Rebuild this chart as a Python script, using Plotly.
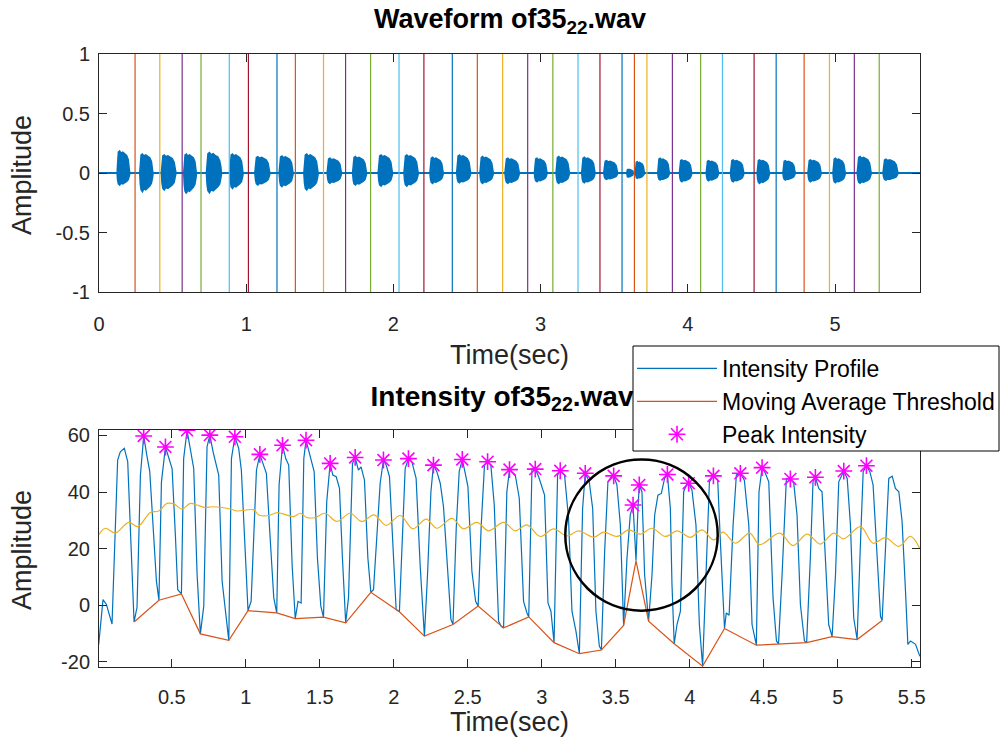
import plotly.graph_objects as go

# ---------------- DATA ----------------
# Segment boundaries (intensity valleys) in seconds and their intensity (dB)
valley_t = [0.245, 0.413, 0.565, 0.693, 0.885, 1.015, 1.209, 1.334, 1.525, 1.675, 1.845,
            2.038, 2.207, 2.400, 2.570, 2.742, 2.912, 3.083, 3.254, 3.403, 3.553, 3.637,
            3.722, 3.895, 4.087, 4.235, 4.450, 4.600, 4.790, 4.962, 5.131, 5.300]
valley_db = [-5.9, 1.8, 4.0, -10.1, -12.4, -1.9, -2.7, -4.7, -4.2, -6.2, 4.6,
             -2.3, -10.9, -6.8, -0.3, -8.0, -4.1, -13.2, -17.1, -15.8, -7.1, 15.7,
             -5.6, -13.6, -21.5, -8.2, -14.1, -13.6, -13.2, -11.1, -12.1, -5.4]

# Peak intensities
peak_t = [0.310, 0.457, 0.603, 0.757, 0.926, 1.095, 1.248, 1.407, 1.570, 1.739, 1.930,
          2.099, 2.268, 2.463, 2.634, 2.782, 2.956, 3.125, 3.294, 3.486, 3.617, 3.659,
          3.849, 3.993, 4.160, 4.342, 4.489, 4.680, 4.849, 5.041, 5.194]
peak_db = [59.8, 55.9, 61.8, 60.1, 59.5, 53.3, 56.5, 58.3, 50.1, 52.2, 51.3,
           51.8, 49.5, 51.5, 50.7, 47.9, 48.1, 47.5, 46.6, 45.7, 35.4, 42.5,
           46.2, 43.1, 45.7, 46.6, 48.6, 44.6, 45.2, 47.4, 49.3]

# Intensity profile (time, dB)
intensity_t = [
    0.006, 0.035, 0.058, 0.096, 0.134, 0.152, 0.179, 0.202, 0.245,
    0.265, 0.288, 0.310, 0.333, 0.351, 0.373, 0.396, 0.413,
    0.430, 0.457, 0.479, 0.502, 0.524, 0.540, 0.565,
    0.580, 0.603, 0.626, 0.648, 0.671, 0.693,
    0.716, 0.738, 0.757, 0.779, 0.817, 0.840, 0.885,
    0.903, 0.926, 0.952, 0.970, 0.997, 1.015,
    1.036, 1.072, 1.095, 1.117, 1.139, 1.166, 1.189, 1.209,
    1.225, 1.248, 1.270, 1.290, 1.313, 1.334,
    1.353, 1.374, 1.392, 1.407, 1.446, 1.462, 1.484, 1.507, 1.525,
    1.547, 1.570, 1.588, 1.611, 1.633, 1.653, 1.675,
    1.694, 1.721, 1.739, 1.761, 1.779, 1.802, 1.825, 1.845,
    1.863, 1.890, 1.908, 1.930, 1.949, 1.971, 1.994, 2.016, 2.038,
    2.054, 2.077, 2.099, 2.122, 2.151, 2.178, 2.207,
    2.228, 2.251, 2.268, 2.291, 2.314, 2.336, 2.363, 2.386, 2.400,
    2.422, 2.442, 2.463, 2.483, 2.501, 2.528, 2.553, 2.570,
    2.591, 2.613, 2.634, 2.656, 2.679, 2.708, 2.726, 2.742,
    2.764, 2.782, 2.821, 2.848, 2.877, 2.900, 2.912,
    2.934, 2.956, 2.979, 3.019, 3.042, 3.062, 3.083,
    3.107, 3.125, 3.154, 3.181, 3.204, 3.231, 3.254,
    3.276, 3.294, 3.321, 3.344, 3.366, 3.389, 3.403,
    3.425, 3.447, 3.470, 3.486, 3.508, 3.531, 3.553,
    3.576, 3.598, 3.617, 3.637,
    3.650, 3.659, 3.677, 3.695, 3.722,
    3.745, 3.763, 3.785, 3.808, 3.830, 3.849, 3.869, 3.880, 3.895,
    3.914, 3.937, 3.959, 3.982, 3.993, 4.015, 4.042, 4.065, 4.087,
    4.110, 4.133, 4.160, 4.189, 4.207, 4.235,
    4.247, 4.266, 4.293, 4.315, 4.342, 4.369, 4.399, 4.421, 4.450,
    4.468, 4.489, 4.511, 4.534, 4.563, 4.586, 4.600,
    4.624, 4.653, 4.680, 4.703, 4.725, 4.748, 4.775, 4.790,
    4.815, 4.833, 4.849, 4.872, 4.894, 4.917, 4.939, 4.962,
    4.985, 5.007, 5.041, 5.064, 5.086, 5.108, 5.131,
    5.154, 5.172, 5.194, 5.217, 5.239, 5.266, 5.289, 5.300,
    5.323, 5.345, 5.368, 5.390, 5.413, 5.435, 5.458, 5.474, 5.492, 5.526, 5.555]
intensity_db = [
    -13.8, 2.0, 0.3, -6.6, 51.3, 54.2, 55.4, 50.7, -5.9,
    -0.7, 46.0, 59.8, 52.4, 47.2, 28.4, 8.5, 1.8,
    43.6, 55.9, 52.4, 48.3, 24.9, 5.5, 4.0,
    51.8, 61.8, 54.8, 48.3, 10.8, -10.1,
    -0.3, 56.0, 60.1, 54.2, 46.0, 8.5, -12.4,
    51.8, 59.5, 55.4, 47.7, 16.7, -1.9,
    1.4, 47.7, 53.3, 49.5, 46.6, 22.5, 2.6, -2.7,
    42.5, 56.5, 51.8, 49.5, 14.3, -4.7,
    1.4, 0.8, 51.8, 58.3, 50.7, 47.2, 16.7, -0.3, -4.2,
    36.6, 50.1, 46.0, 45.4, 41.3, 16.7, -6.2,
    2.6, 50.1, 52.2, 47.7, 48.9, 44.2, 16.7, 4.6,
    5.5, 27.2, 43.1, 51.3, 49.5, 45.4, 21.4, -1.5, -2.3,
    19.0, 48.3, 51.8, 50.7, 44.8, 14.3, -10.9,
    10.8, 40.1, 49.5, 47.2, 43.1, 34.8, 13.1, -5.0, -6.8,
    27.2, 47.2, 51.5, 46.6, 41.9, 12.0, 1.4, -0.3,
    28.4, 49.5, 50.7, 49.5, 35.4, -5.6, -7.4, -8.0,
    40.0, 47.9, 46.0, 37.8, 1.4, -2.7, -4.1,
    48.3, 48.1, 45.4, 38.9, 0.8, -2.1, -13.2,
    46.0, 47.5, 46.0, 30.7, -2.1, -9.1, -17.1,
    34.2, 46.6, 43.6, 34.2, -2.1, -14.4, -15.8,
    19.0, 43.6, 45.4, 45.7, 42.5, 28.4, -7.1,
    16.7, 31.9, 35.4, 15.7,
    34.2, 42.5, 40.1, 10.8, -5.6,
    10.8, 31.9, 38.9, 39.5, 44.8, 46.2, 34.2, 7.3, -13.6,
    -6.8, -2.1, 40.1, 43.1, 43.1, 40.7, 28.4, -6.8, -21.5,
    10.8, 43.6, 45.7, 44.2, 22.5, -8.2,
    -2.7, -3.5, 28.4, 46.0, 46.6, 44.2, 28.4, -6.8, -14.1,
    40.1, 48.6, 46.6, 43.6, 2.6, -12.6, -13.6,
    10.8, 44.8, 44.6, 43.1, 31.9, 0.2, -12.6, -13.2,
    16.7, 43.6, 45.2, 41.3, 40.1, 16.7, -6.8, -11.1,
    10.8, 43.6, 47.4, 44.8, 28.4, -4.4, -12.1,
    22.5, 47.2, 49.3, 47.2, 42.5, 16.7, -3.9, -5.4,
    22.5, 44.8, 45.6, 41.3, 40.1, 29.6, 5.0, -13.8, -12.6, -13.8, -18.0]

# Smoothed (moving-average) curve (time, dB)
smooth_t = [0.006, 0.051, 0.118, 0.209, 0.270, 0.355, 0.412, 0.468, 0.513, 0.569, 0.626,
            0.671, 0.727, 0.772, 0.896, 0.941, 1.054, 1.088, 1.155, 1.212, 1.257, 1.324,
            1.369, 1.412, 1.469, 1.536, 1.615, 1.705, 1.784, 1.867, 1.949, 2.043, 2.129,
            2.219, 2.291, 2.393, 2.471, 2.562, 2.641, 2.742, 2.821, 2.900, 2.990, 3.080,
            3.170, 3.249, 3.350, 3.418, 3.508, 3.587, 3.666, 3.745, 3.835, 3.914, 4.004,
            4.083, 4.162, 4.225, 4.308, 4.405, 4.473, 4.608, 4.698, 4.793, 4.883, 4.973,
            5.041, 5.154, 5.239, 5.323, 5.413, 5.492, 5.555]
smooth_db = [24.9, 27.2, 25.5, 29.3, 27.8, 32.8, 33.3, 36.0, 35.8, 34.0, 36.0,
             35.4, 34.5, 34.8, 34.0, 33.3, 33.7, 31.9, 31.7, 32.7, 32.2, 31.3,
             32.5, 31.0, 31.0, 32.5, 29.6, 32.5, 29.6, 31.9, 28.2, 31.7, 27.0,
             30.4, 27.2, 30.7, 27.0, 29.3, 26.3, 29.3, 26.3, 28.4, 24.3, 27.0,
             24.5, 26.3, 24.0, 25.8, 24.3, 26.6, 25.1, 27.2, 24.3, 26.3, 24.0,
             26.6, 23.1, 25.8, 21.9, 25.5, 21.4, 25.5, 21.1, 25.1, 21.6, 25.5,
             23.5, 27.8, 21.9, 23.9, 20.8, 24.3, 20.0]

# Waveform bursts: start, end (s), positive and negative envelope amplitude
burst_start = [0.123, 0.277, 0.424, 0.576, 0.730, 0.889, 1.059, 1.224, 1.392, 1.550, 1.723,
               1.897, 2.072, 2.248, 2.430, 2.588, 2.758, 2.958, 3.105, 3.279, 3.429, 3.585,
               3.644, 3.796, 3.943, 4.125, 4.290, 4.471, 4.646, 4.816, 4.986, 5.151, 5.326]
burst_end = [0.209, 0.367, 0.522, 0.662, 0.832, 0.979, 1.161, 1.319, 1.489, 1.648, 1.818,
             1.994, 2.169, 2.339, 2.525, 2.679, 2.856, 3.044, 3.196, 3.370, 3.524, 3.630,
             3.705, 3.875, 4.027, 4.209, 4.381, 4.555, 4.730, 4.906, 5.070, 5.246, 5.428]
burst_top = [0.185, 0.160, 0.152, 0.160, 0.171, 0.160, 0.138, 0.143, 0.160, 0.124, 0.138,
             0.152, 0.152, 0.132, 0.152, 0.138, 0.124, 0.124, 0.138, 0.132, 0.104, 0.030,
             0.095, 0.124, 0.110, 0.104, 0.110, 0.110, 0.104, 0.110, 0.124, 0.138, 0.116]
burst_bottom = [-0.101, -0.157, -0.143, -0.171, -0.166, -0.129, -0.101, -0.115, -0.143, -0.087, -0.101,
                -0.110, -0.110, -0.087, -0.082, -0.087, -0.087, -0.073, -0.087, -0.082, -0.053, -0.035,
                -0.045, -0.059, -0.073, -0.065, -0.073, -0.087, -0.059, -0.073, -0.082, -0.087, -0.059]
wave_duration = 5.577

top_xticks = [0, 1, 2, 3, 4, 5]
top_yticks = [-1, -0.5, 0, 0.5, 1]
top_yticklabels = ["-1", "-0.5", "0", "0.5", "1"]
bot_xticks = [0.5, 1, 1.5, 2, 2.5, 3, 3.5, 4, 4.5, 5, 5.5]
bot_xticklabels = ["0.5", "1", "1.5", "2", "2.5", "3", "3.5", "4", "4.5", "5", "5.5"]
bot_yticks = [-20, 0, 20, 40, 60]
bot_yticklabels = ["-20", "0", "20", "40", "60"]

# ---------------- STYLE ----------------
FONT = "Liberation Sans, Arial, Helvetica, sans-serif"
AX = "#262626"
BLUE = "#0072BD"
ORANGE = "#D95319"
YELLOW = "#EDB120"
CYCLE = ["#0072BD", "#D95319", "#EDB120", "#7E2F8E", "#77AC30", "#4DBEEE", "#A2142F"]

# envelope shape (relative position, relative amplitude) used to draw each burst
REL = [0.0, 0.04, 0.1, 0.2, 0.3, 0.45, 0.6, 0.75, 0.88, 0.96, 1.0]
TOPF = [0.05, 0.7, 0.95, 1.0, 0.9, 0.95, 0.85, 0.8, 0.6, 0.3, 0.05]
BOTF = [0.05, 0.6, 0.9, 1.0, 0.85, 0.9, 0.8, 0.7, 0.55, 0.25, 0.05]

fig = go.Figure()

# ---- top: waveform ----
wx, wy = [], []
for s, e, tp, bt in zip(burst_start, burst_end, burst_top, burst_bottom):
    d = e - s
    for r, f in zip(REL, TOPF):
        wx.append(s + r * d); wy.append(tp * f)
    for r, f in zip(REL[::-1], BOTF[::-1]):
        wx.append(s + r * d); wy.append(bt * f)
    wx.append(None); wy.append(None)
fig.add_trace(go.Scatter(x=[0, wave_duration], y=[0, 0], mode="lines",
                         line=dict(color=BLUE, width=2), xaxis="x", yaxis="y",
                         showlegend=False, hoverinfo="skip"))
fig.add_trace(go.Scatter(x=wx, y=wy, mode="lines", fill="toself", fillcolor=BLUE,
                         line=dict(color=BLUE, width=1.5), xaxis="x", yaxis="y",
                         showlegend=False, hoverinfo="skip"))
for i, t in enumerate(valley_t):
    fig.add_trace(go.Scatter(x=[t, t], y=[-1, 1], mode="lines",
                             line=dict(color=CYCLE[(i + 1) % 7], width=1.2),
                             xaxis="x", yaxis="y", showlegend=False, hoverinfo="skip"))

# ---- bottom: intensity ----
fig.add_trace(go.Scatter(x=intensity_t, y=intensity_db, mode="lines", name="Intensity Profile",
                         line=dict(color=BLUE, width=1.2), xaxis="x2", yaxis="y2",
                         legendgroup="a"))
fig.add_trace(go.Scatter(x=valley_t, y=valley_db, mode="lines", name="Moving Average Threshold",
                         line=dict(color=ORANGE, width=1.2), xaxis="x2", yaxis="y2",
                         legendgroup="b"))
fig.add_trace(go.Scatter(x=peak_t, y=peak_db, mode="markers", name="Peak Intensity",
                         marker=dict(symbol="asterisk-open", size=14, color="#FF00FF",
                                     line=dict(color="#FF00FF", width=1.6)),
                         xaxis="x2", yaxis="y2", legendgroup="c"))
fig.add_trace(go.Scatter(x=smooth_t, y=smooth_db, mode="lines", line_shape="spline",
                         line=dict(color=YELLOW, width=1.2), xaxis="x2", yaxis="y2",
                         showlegend=False))

# ---------------- LAYOUT ----------------
L, R, T, B = 99, 80, 54, 84
W, H = 1000, 751
PH = H - T - B
PW = W - L - R


def py(y):  # pixel y -> paper
    return (H - B - y) / PH


def px(x):  # pixel x -> paper
    return (x - L) / PW


axis_common = dict(showline=True, linecolor=AX, linewidth=1, mirror="ticks", ticks="inside",
                   ticklen=8, tickwidth=1, tickcolor=AX, showgrid=False, zeroline=False,
                   tickfont=dict(family=FONT, size=20, color=AX))

fig.update_layout(
    width=W, height=H, margin=dict(l=L, r=R, t=T, b=B, autoexpand=False),
    paper_bgcolor="white", plot_bgcolor="white",
    font=dict(family=FONT, color=AX),
    xaxis=dict(domain=[0, 1], anchor="y", range=[0, 5.577], tickvals=top_xticks,
               ticklabelstandoff=14, **axis_common),
    yaxis=dict(domain=[py(292), 1], anchor="x", range=[-1, 1], tickvals=top_yticks,
               ticktext=top_yticklabels, ticklabelstandoff=4, **axis_common),
    xaxis2=dict(domain=[0, 1], anchor="y2", range=[0.008, 5.556], tickvals=bot_xticks,
                ticktext=bot_xticklabels, ticklabelstandoff=12, **axis_common),
    yaxis2=dict(domain=[0, py(430)], anchor="x2", range=[-21.8, 61.9], tickvals=bot_yticks,
                ticktext=bot_yticklabels, ticklabelstandoff=4, **axis_common),
    showlegend=True,
    legend=dict(x=px(632), y=py(347), xanchor="left", yanchor="top", itemwidth=80,
                bgcolor="rgba(0,0,0,0)", borderwidth=0, tracegroupgap=0,
                font=dict(family=FONT, size=23, color="#000000")),
)

fig.add_shape(type="circle", xref="x2", yref="y2", x0=3.159, x1=4.189, y0=-1.9, y1=51.5,
              line=dict(color="black", width=2.5))
# bottom title (as a shape label so the legend box can cover its end)
fig.add_shape(type="rect", xref="paper", yref="paper", x0=px(99 - 7.5), x1=px(920 - 7.5),
              y0=py(410), y1=py(380),
              line=dict(width=0, color="rgba(0,0,0,0)"), fillcolor="rgba(0,0,0,0)", layer="above",
              label=dict(text="<b>Intensity of35<sub>22</sub>.wav</b>", textposition="middle center",
                         font=dict(family=FONT, size=28, color="black")))
# legend box
fig.add_shape(type="rect", xref="paper", yref="paper", x0=px(633), x1=px(999), y0=py(451), y1=py(346),
              line=dict(color="black", width=1), fillcolor="white", layer="above")

fig.add_annotation(text="<b>Waveform of35<sub>22</sub>.wav</b>", xref="paper", yref="paper",
                   x=0.5, y=py(21), showarrow=False, xanchor="center", yanchor="middle",
                   font=dict(family=FONT, size=27, color="black"))
for yc in (175, 550):
    fig.add_annotation(text="Amplitude", xref="paper", yref="paper", x=px(22), y=py(yc),
                       textangle=-90, showarrow=False, xanchor="center", yanchor="middle",
                       font=dict(family=FONT, size=27, color=AX))
for yc in (355, 722):
    fig.add_annotation(text="Time(sec)", xref="paper", yref="paper", x=0.5, y=py(yc),
                       showarrow=False, xanchor="center", yanchor="middle",
                       font=dict(family=FONT, size=27, color=AX))

fig.write_html("out.html")
